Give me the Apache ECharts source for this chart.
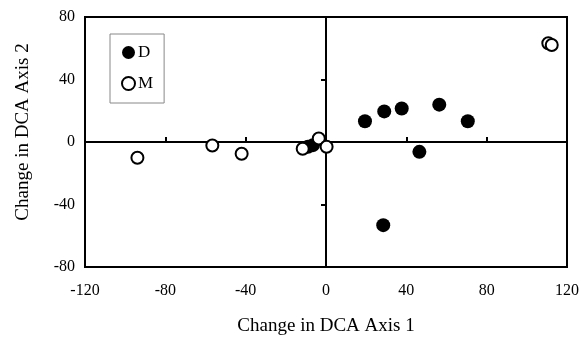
<!DOCTYPE html>
<html>
<head>
<meta charset="utf-8">
<script src="https://cdn.jsdelivr.net/npm/echarts@6/dist/echarts.min.js"></script>
<style>
  html, body { margin: 0; padding: 0; background: #fff; }
  #main { width: 587px; height: 341px; }
</style>
</head>
<body>
<div id="main"></div>
<script>
// D (filled) and M (open) points, [axis1, axis2]
const dPoints = [
  [19.4, 13.3], [29, 19.6], [37.7, 21.4], [56.4, 23.9], [70.6, 13.3],
  [46.5, -6.3], [28.5, -53.2], [-9, -3], [-6.5, -2]
]
const mPoints = [
  [110.7, 63.2], [112.4, 62.1], [-93.9, -10.1], [-56.6, -2.2], [-42, -7.5],
  [-11.6, -4.3], [-3.6, 2.2], [0.3, -3]
]
const xTicks = [-120, -80, -40, 0, 40, 80, 120]
const yTicks = [-80, -40, 0, 40, 80]

const font = 'Liberation Serif'
const myChart = echarts.init(document.getElementById('main'))

const option = {
  animation: false,
  textStyle: { fontFamily: font, color: '#000' },
  grid: {
    left: 85, right: 20, top: 17, bottom: 73,
    show: true, borderColor: '#000', borderWidth: 2
  },
  legend: {
    orient: 'vertical',
    left: 110, top: 34,
    padding: [10, 11, 11, 11],
    itemGap: 14,
    itemWidth: 13, itemHeight: 13,
    borderColor: '#888', borderWidth: 1,
    textStyle: { fontFamily: font, fontSize: 17, color: '#000', padding: [0, 0, 0, -2] },
    data: ['D', 'M']
  },
  xAxis: [
    {
      type: 'value', min: -120, max: 120, interval: 40,
      name: 'Change in DCA Axis 1', nameLocation: 'middle', nameGap: 50,
      nameTextStyle: { fontFamily: font, fontSize: 19, color: '#000' },
      axisLine: { show: false, onZero: false },
      axisTick: { show: false },
      splitLine: { show: false },
      axisLabel: {
        margin: 16, fontFamily: font, fontSize: 16, color: '#000',
        formatter: v => xTicks.includes(v) ? String(v) : ''
      }
    },
    {
      type: 'value', min: -120, max: 120, interval: 40, position: 'bottom',
      axisLine: { show: true, onZero: true, lineStyle: { color: '#000', width: 2 } },
      axisTick: { show: true, inside: true, length: 5, lineStyle: { color: '#000', width: 2 } },
      axisLabel: { show: false },
      splitLine: { show: false }
    }
  ],
  yAxis: [
    {
      type: 'value', min: -80, max: 80, interval: 40,
      name: 'Change in DCA Axis 2', nameLocation: 'middle', nameGap: 52,
      nameTextStyle: { fontFamily: font, fontSize: 19, color: '#000', padding: [0, 0, 0, 20] },
      axisLine: { show: false, onZero: false },
      axisTick: { show: false },
      splitLine: { show: false },
      axisLabel: {
        margin: 10, fontFamily: font, fontSize: 16, color: '#000',
        formatter: v => yTicks.includes(v) ? String(v) : ''
      }
    },
    {
      type: 'value', min: -80, max: 80, interval: 40, position: 'left',
      axisLine: { show: true, onZero: true, lineStyle: { color: '#000', width: 2 } },
      axisTick: { show: true, inside: false, length: 5, lineStyle: { color: '#000', width: 2 } },
      axisLabel: { show: false },
      splitLine: { show: false }
    }
  ],
  series: [
    {
      name: 'D', type: 'scatter', symbol: 'circle', symbolSize: 14,
      itemStyle: { color: '#000', opacity: 1 },
      data: dPoints
    },
    {
      name: 'M', type: 'scatter', symbol: 'circle', symbolSize: 12,
      itemStyle: { color: '#fff', borderColor: '#000', borderWidth: 2, opacity: 1 },
      data: mPoints
    }
  ]
}
myChart.setOption(option)
</script>
</body>
</html>
